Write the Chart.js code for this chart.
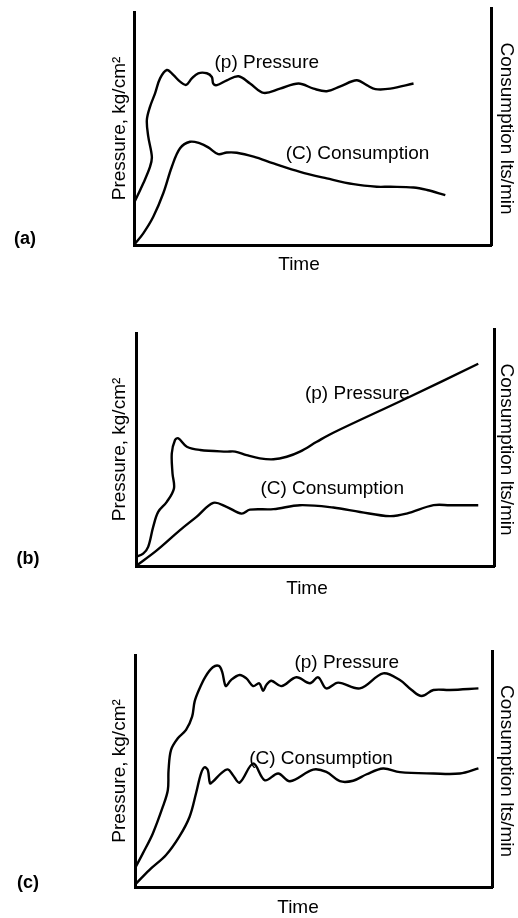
<!DOCTYPE html>
<html lang="en">
<head>
<meta charset="UTF-8">
<title>Pressure and consumption against time</title>
<script src="https://cdn.jsdelivr.net/npm/chart.js"></script>
<style>
    html, body { margin: 0; padding: 0; background: #fff; overflow: hidden; }
    #pagina { position: relative; width: 518px; height: 918px; }
    canvas { position: absolute; left: 0; }
</style>
</head>
<body>
<div id="pagina">
    <canvas id="graficoA" width="518" height="300" style="top:0px"></canvas>
    <canvas id="graficoB" width="518" height="310" style="top:300px"></canvas>
    <canvas id="graficoC" width="518" height="310" style="top:610px"></canvas>
</div>

<script>
    const FONTE = '"Liberation Sans", Arial, Helvetica, sans-serif';

    // Curva (a): pressao sobe rapido e oscila, consumo cai devagar
    const tempoPressaoA = [0, 2.6, 4.5, 5.0, 4.0, 3.6, 4.5, 5.9, 7.3, 9.2, 11.0, 12.9, 14.6, 16.2, 18.0, 20.4, 21.8, 22.2, 23.2, 26.0, 29.3, 32.5, 36.3, 40.9, 46.1, 50.3, 54.0, 57.8, 62.4, 65.2, 67.6, 71.8, 78.3];
    const pressaoA = [18, 26.5, 33.6, 37.9, 46.5, 53.6, 59.4, 65.1, 71.5, 75.1, 73.0, 70.1, 68.7, 71.5, 73.7, 73.7, 72.1, 69.3, 68.6, 70.7, 72.4, 69.3, 65.3, 67.1, 69.3, 67.1, 66.0, 68.1, 70.7, 68.6, 66.9, 67.1, 69.3];
    const tempoConsumoA = [0, 2.6, 5.4, 8.2, 10.6, 12.9, 15.7, 18.5, 20.8, 23.6, 26.0, 28.8, 33.5, 39.1, 46.5, 54.0, 61.5, 68.0, 71.8, 78.3, 82.1, 87.2];
    const consumoA = [0, 5.0, 12.1, 22.2, 33.6, 41.5, 44.3, 43.6, 41.9, 39.0, 39.7, 39.6, 37.9, 35.0, 31.4, 28.6, 26.1, 25.0, 25.0, 24.7, 23.6, 21.4];

    // Curva (b): pressao sobe em linha reta no fim
    const tempoPressaoB = [0, 2.0, 3.4, 4.8, 6.2, 8.6, 10.6, 10.2, 10.0, 10.9, 11.8, 14.2, 17.9, 25.3, 27.7, 30.9, 34.6, 38.4, 42.1, 45.8, 50.5, 55.1, 75.6, 95.6];
    const pressaoB = [3.9, 5.3, 8.2, 16.8, 23.2, 27.5, 33.3, 39.7, 48.4, 54.1, 54.8, 51.2, 49.8, 49.1, 49.1, 47.6, 46.2, 45.8, 46.9, 49.1, 53.3, 57.2, 72.0, 86.8];
    const tempoConsumoB = [0, 5.8, 12.3, 16.9, 21.6, 25.3, 29.5, 31.8, 38.4, 45.8, 55.1, 62.6, 70.9, 75.6, 83.1, 87.7, 95.6];
    const consumoB = [0, 6.7, 15.4, 21.1, 27.1, 25.4, 22.5, 24.2, 24.4, 26.1, 25.1, 23.2, 21.4, 22.5, 26.1, 26.1, 26.1];

    // Curva (c): as duas estabilizam com oscilacao
    const tempoPressaoC = [0, 2.2, 5.0, 7.8, 9.2, 9.4, 10.1, 12.0, 14.3, 16.0, 16.7, 17.9, 19.7, 21.8, 23.5, 24.4, 25.1, 25.5, 26.9, 29.3, 31.2, 33.1, 34.8, 35.9, 36.8, 38.2, 41.0, 45.2, 49.0, 51.3, 53.6, 56.9, 63.0, 69.5, 74.2, 77.5, 80.3, 83.6, 88.2, 96.2];
    const pressaoC = [8.1, 14.5, 23.1, 34.6, 41.8, 50.4, 59.1, 64.1, 67.7, 73.4, 79.9, 84.9, 90.6, 94.7, 95.3, 92.8, 87.8, 86.6, 89.2, 91.4, 89.9, 86.6, 87.8, 84.6, 87.1, 88.9, 86.6, 90.4, 87.8, 90.4, 85.6, 88.1, 85.6, 92.1, 89.2, 84.9, 82.3, 84.9, 84.9, 85.6];
    const tempoConsumoC = [0, 4.0, 8.7, 12.4, 15.3, 17.1, 18.5, 19.5, 20.4, 21.0, 21.8, 24.1, 26.0, 27.4, 29.3, 33.1, 36.4, 40.1, 43.4, 49.9, 53.6, 57.4, 61.1, 64.9, 69.5, 74.2, 83.6, 91.0, 96.2];
    const consumoC = [1, 7.3, 13.8, 21.7, 30.3, 40.4, 49.0, 51.6, 50.4, 44.7, 45.4, 49.0, 50.7, 48.3, 45.0, 53.2, 46.0, 48.9, 45.6, 50.6, 49.6, 45.6, 45.8, 48.6, 51.1, 49.5, 48.9, 48.9, 51.1];

    const rotuloPressao = '(p) Pressure';
    const rotuloConsumo = '(C) Consumption';

    // posicao de cada painel no canvas e dos rotulos das curvas (em unidades do grafico)
    const paineis = [
        { canvas: 'graficoA', letra: '(a)', letraX: 25, letraY: 239, tempoX: 299, tempoY: 265,
          altura: 300, topo: 12, base: 245, esquerda: 134, direita: 491, alturaX: 32,
          notaP: [37.2, 78.1], notaC: [62.6, 39.0],
          tp: tempoPressaoA, p: pressaoA, tc: tempoConsumoA, c: consumoA },
        { canvas: 'graficoB', letra: '(b)', letraX: 28, letraY: 259, tempoX: 307, tempoY: 289,
          altura: 310, topo: 33, base: 266, esquerda: 136, direita: 494, alturaX: 35,
          notaP: [61.8, 74.0], notaC: [54.8, 33.3],
          tp: tempoPressaoB, p: pressaoB, tc: tempoConsumoB, c: consumoB },
        { canvas: 'graficoC', letra: '(c)', letraX: 28, letraY: 273, tempoX: 298, tempoY: 298,
          altura: 310, topo: 45, base: 277, esquerda: 135, direita: 492, alturaX: 33,
          notaP: [59.3, 96.7], notaC: [52.1, 55.4],
          tp: tempoPressaoC, p: pressaoC, tc: tempoConsumoC, c: consumoC }
    ];

    function pontos(xs, ys) {
        return xs.map((x, i) => ({ x: x, y: ys[i] }));
    }

    // letra do painel, "Time" e os nomes das curvas
    function textosPainel(p) {
        return {
            id: 'textosPainel',
            afterDraw(chart) {
                const ctx = chart.ctx;
                const area = chart.chartArea;
                const sx = chart.scales.x;
                const sy = chart.scales.y;
                ctx.save();

                // eixo da direita passa um pouco acima do da esquerda
                const xd = Math.round(area.right - 1.5) + 1.5;
                ctx.strokeStyle = '#000';
                ctx.lineWidth = 3;
                ctx.beginPath();
                ctx.moveTo(xd, area.top + 1);
                ctx.lineTo(xd, area.top - 5);
                ctx.stroke();

                ctx.fillStyle = '#000';
                ctx.textAlign = 'center';
                ctx.textBaseline = 'middle';
                ctx.font = 'bold 18px ' + FONTE;
                ctx.fillText(p.letra, p.letraX, p.letraY);

                ctx.font = '19px ' + FONTE;
                ctx.fillText('Time', p.tempoX, p.tempoY);
                ctx.fillText(rotuloPressao, sx.getPixelForValue(p.notaP[0]), sy.getPixelForValue(p.notaP[1]));
                ctx.fillText(rotuloConsumo, sx.getPixelForValue(p.notaC[0]), sy.getPixelForValue(p.notaC[1]));
                ctx.restore();
            }
        };
    }

    function criarGrafico(p) {
        const eixo = { display: true, color: '#000', width: 3 };
        const fonteTitulo = { family: FONTE, size: 19 };

        const config = {
            type: 'scatter',
            data: {
                datasets: [
                    {
                        label: 'Pressure',
                        data: pontos(p.tp, p.p),
                        yAxisID: 'y',
                        showLine: true,
                        borderColor: '#000',
                        borderWidth: 2.4,
                        pointRadius: 0,
                        tension: 0.35
                    },
                    {
                        label: 'Consumption',
                        data: pontos(p.tc, p.c),
                        yAxisID: 'y1',
                        showLine: true,
                        borderColor: '#000',
                        borderWidth: 2.4,
                        pointRadius: 0,
                        tension: 0.35
                    }
                ]
            },
            plugins: [textosPainel(p)],
            options: {
                responsive: false,
                animation: false,
                devicePixelRatio: 1,
                layout: {
                    padding: {
                        left: 104,
                        right: 0,
                        top: p.topo,
                        bottom: p.altura - p.base - p.alturaX
                    }
                },
                plugins: {
                    legend: { display: false },
                    tooltip: { enabled: false }
                },
                scales: {
                    x: {
                        type: 'linear',
                        min: 0,
                        max: 100,
                        ticks: { display: false },
                        grid: { display: false },
                        border: eixo,
                        afterFit: s => { s.height = p.alturaX; }
                    },
                    y: {
                        type: 'linear',
                        position: 'left',
                        min: 0,
                        max: 100,
                        ticks: { display: false },
                        grid: { display: false },
                        border: eixo,
                        title: {
                            display: true,
                            text: 'Pressure, kg/cm²',
                            color: '#000',
                            font: fonteTitulo,
                            padding: { top: 4, bottom: 4 }
                        },
                        afterFit: s => { s.width = p.esquerda - 104; }
                    },
                    y1: {
                        type: 'linear',
                        position: 'right',
                        min: 0,
                        max: 100,
                        ticks: { display: false },
                        grid: { display: false },
                        border: eixo,
                        title: {
                            display: true,
                            text: 'Consumption lts/min',
                            color: '#000',
                            font: fonteTitulo,
                            padding: { top: 0, bottom: 0 }
                        },
                        afterFit: s => { s.width = 518 - p.direita; }
                    }
                }
            }
        };

        return new Chart(document.getElementById(p.canvas), config);
    }

    paineis.forEach(criarGrafico);
</script>
</body>
</html>
